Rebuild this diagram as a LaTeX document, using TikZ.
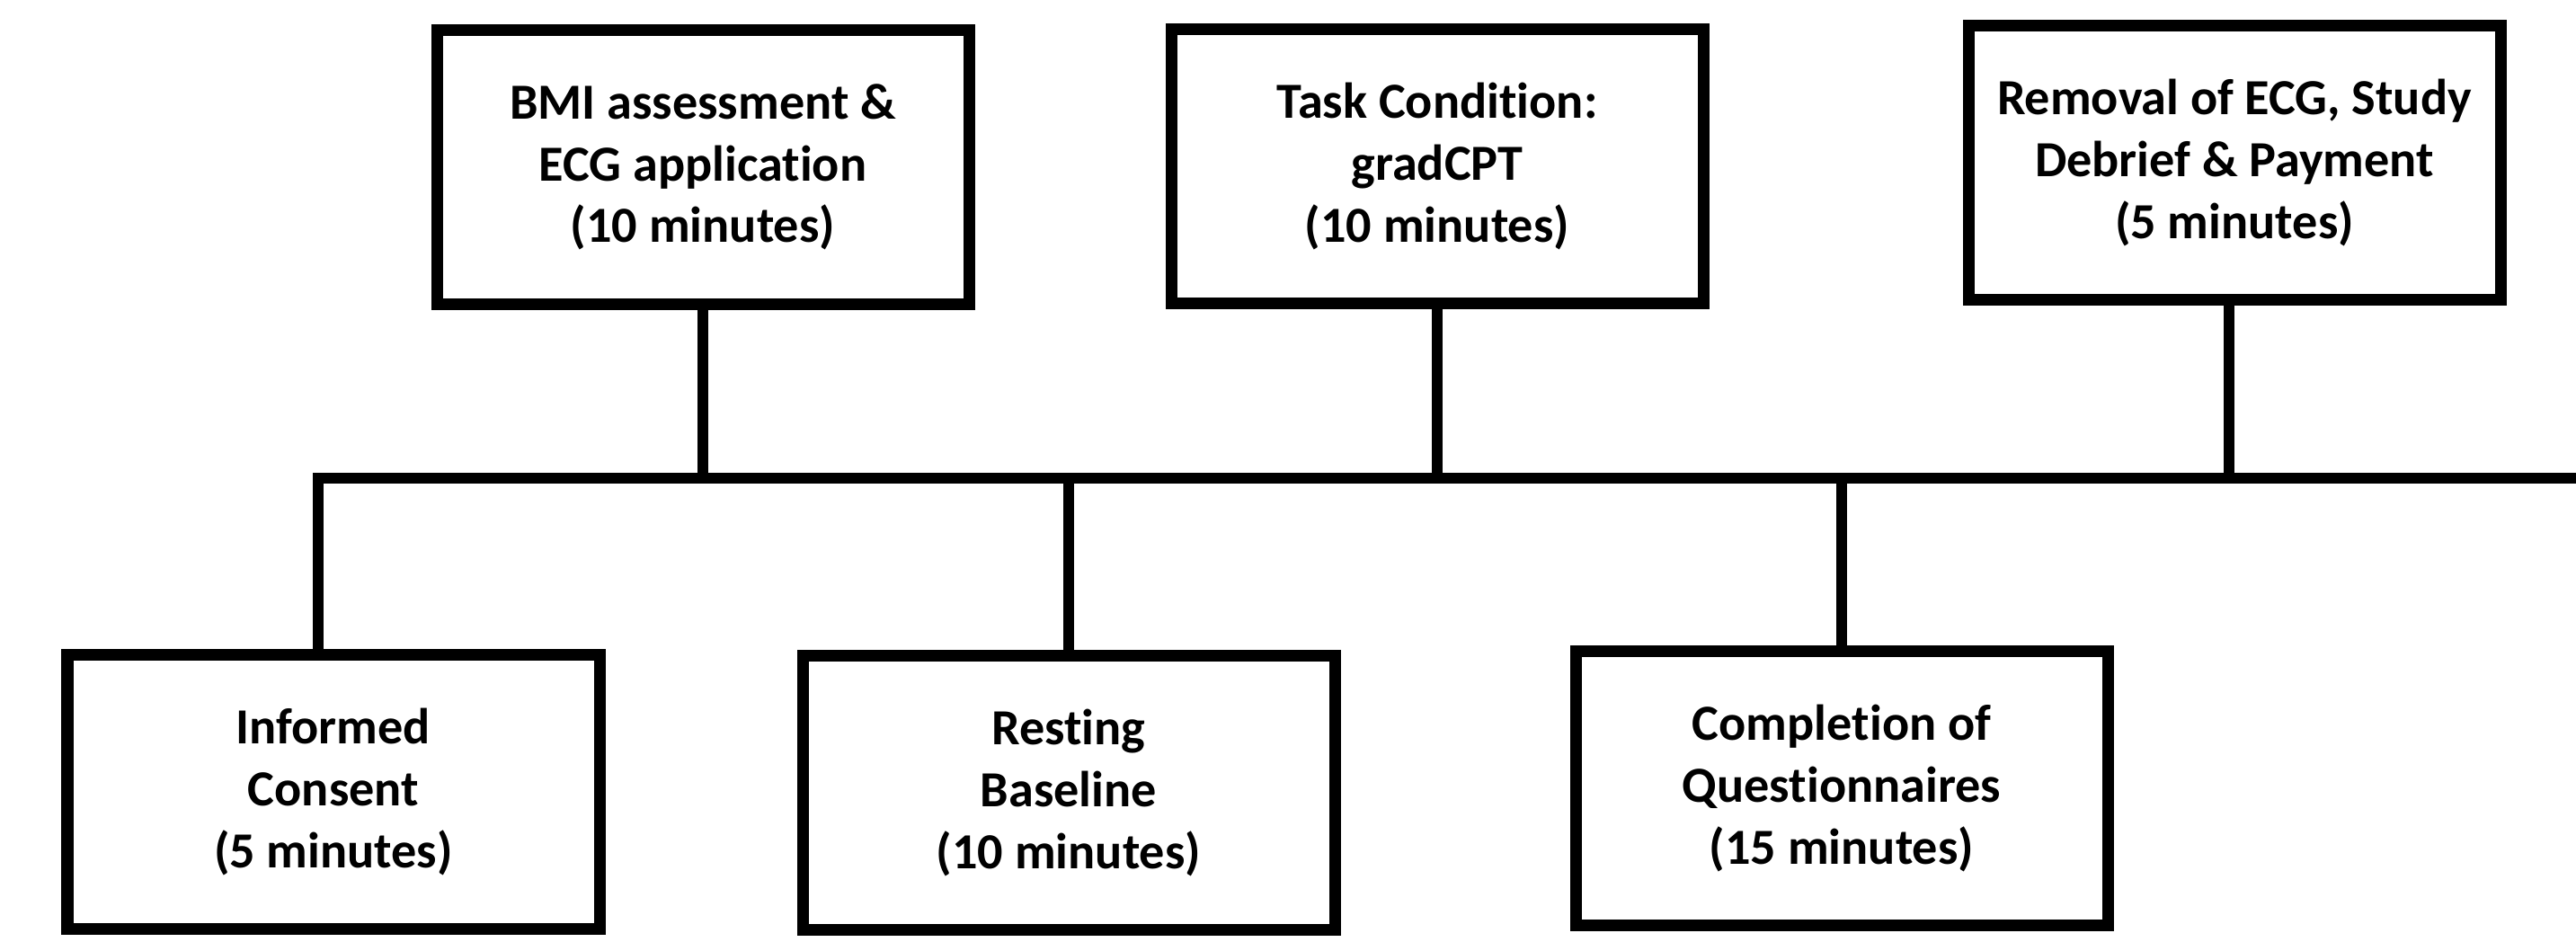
\documentclass[tikz,border=0pt]{standalone}
\usepackage{fontspec}
\setmainfont{Carlito}[Ligatures=NoCommon]

\begin{document}
\begin{tikzpicture}[
        box/.style = {draw, line width=3.7pt, minimum width=5.92cm, minimum height=3.05cm,
                      inner sep=0pt, align=center, font=\fontsize{16}{19.5}\selectfont\bfseries},
        link/.style = {line width=3.2pt}
    ]
    \useasboundingbox (0,0) rectangle (28.66,-10.47);

    % top row
    \node[box] (bmi) at (7.82,-1.86) {BMI assessment \&\\ECG application\\(10 minutes)};
    \node[box] (task) at (15.99,-1.85) {Task Condition:\\gradCPT\\(10 minutes)};
    \node[box] (removal) at (24.86,-1.81) {Removal of ECG, Study\\Debrief \& Payment\\(5 minutes)};

    % bottom row
    \node[box] (consent) at (3.71,-8.81) {Informed\\Consent\\(5 minutes)};
    \node[box] (resting) at (11.89,-8.82) {Resting\\Baseline\\(10 minutes)};
    \node[box] (quest) at (20.49,-8.77) {Completion of\\Questionnaires\\(15 minutes)};

    % time line
    \coordinate (tail) at (28.66,-5.32);
    \draw[link] ([xshift=-0.17cm]consent.north) |- (tail);
    \foreach \n in {bmi, task}
        \draw[link] (\n.south) -- (\n.south |- tail);
    \draw[link] ([xshift=-0.06cm]removal.south) -- ([xshift=-0.06cm]removal.south |- tail);
    \foreach \n in {resting, quest}
        \draw[link] (\n.north) -- (\n.north |- tail);

\end{tikzpicture}
\end{document}
